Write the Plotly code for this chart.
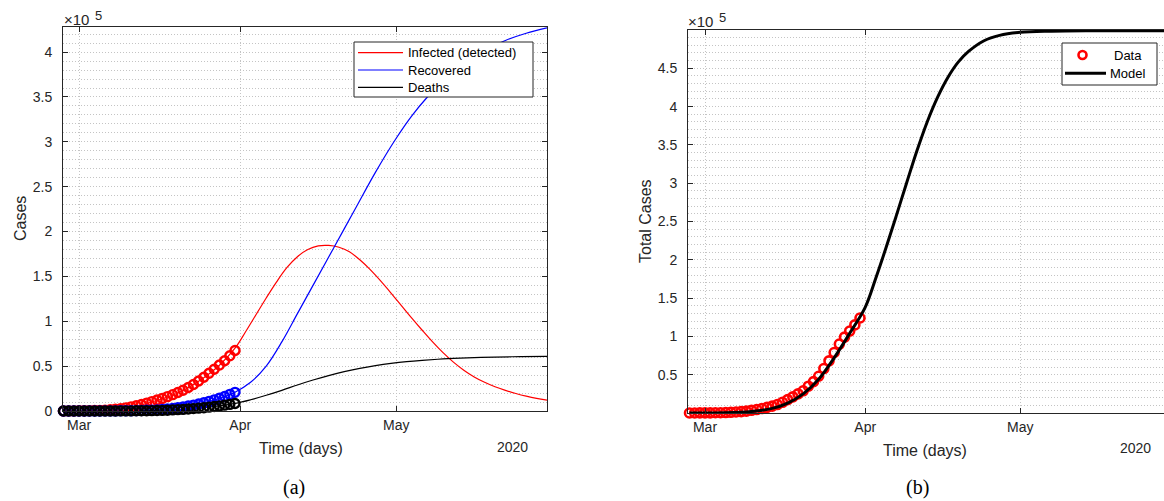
import pandas as pd
import plotly.graph_objects as go

# ---------------- observed data (daily, values in units of 10^5 cases) ----------------
data_dates = pd.date_range("2020-02-27", "2020-03-31").strftime("%Y-%m-%d").tolist()

infected_obs = [0.000, 0.001, 0.001, 0.002, 0.003, 0.004, 0.005, 0.007, 0.010, 0.014,
                0.019, 0.026, 0.035, 0.046, 0.058, 0.072, 0.088, 0.105, 0.122, 0.140,
                0.160, 0.182, 0.206, 0.232, 0.262, 0.296, 0.334, 0.376, 0.420, 0.466,
                0.512, 0.560, 0.615, 0.675]
recovered_obs = [0.000, 0.000, 0.000, 0.000, 0.000, 0.000, 0.000, 0.000, 0.001, 0.001,
                 0.001, 0.002, 0.002, 0.003, 0.004, 0.006, 0.008, 0.010, 0.013, 0.017,
                 0.022, 0.028, 0.036, 0.045, 0.055, 0.066, 0.078, 0.092, 0.107, 0.124,
                 0.142, 0.162, 0.185, 0.208]
deaths_obs = [0.000, 0.000, 0.000, 0.000, 0.000, 0.000, 0.000, 0.000, 0.000, 0.000,
              0.000, 0.001, 0.001, 0.001, 0.002, 0.002, 0.003, 0.004, 0.005, 0.007,
              0.009, 0.012, 0.015, 0.018, 0.022, 0.027, 0.032, 0.037, 0.043, 0.050,
              0.057, 0.065, 0.074, 0.084]
total_obs = [0.000, 0.000, 0.001, 0.001, 0.002, 0.003, 0.004, 0.006, 0.009, 0.013,
             0.018, 0.025, 0.035, 0.045, 0.058, 0.073, 0.090, 0.110, 0.140, 0.175,
             0.210, 0.250, 0.290, 0.350, 0.410, 0.480, 0.580, 0.680, 0.790, 0.900,
             0.990, 1.070, 1.150, 1.240]

# ---------------- model curves (values in units of 10^5 cases) ----------------
infected_dates = ["2020-02-27", "2020-03-05", "2020-03-10", "2020-03-15", "2020-03-20",
                  "2020-03-25", "2020-03-28", "2020-03-31", "2020-04-02", "2020-04-04",
                  "2020-04-06", "2020-04-08", "2020-04-10", "2020-04-12", "2020-04-14",
                  "2020-04-16", "2020-04-18", "2020-04-20", "2020-04-22", "2020-04-24",
                  "2020-04-26", "2020-04-28", "2020-04-30", "2020-05-02", "2020-05-04",
                  "2020-05-06", "2020-05-08", "2020-05-10", "2020-05-12", "2020-05-14",
                  "2020-05-16", "2020-05-18", "2020-05-20", "2020-05-22", "2020-05-24",
                  "2020-05-26", "2020-05-28", "2020-05-30"]
infected_fit = [0.000, 0.005, 0.030, 0.100, 0.200, 0.370, 0.510, 0.700, 0.880, 1.070,
                1.260, 1.440, 1.600, 1.720, 1.800, 1.840, 1.845, 1.825, 1.775, 1.685,
                1.575, 1.450, 1.315, 1.175, 1.035, 0.900, 0.770, 0.650, 0.545, 0.455,
                0.380, 0.320, 0.270, 0.230, 0.195, 0.165, 0.140, 0.120]

recovered_dates = ["2020-02-27", "2020-03-10", "2020-03-20", "2020-03-25", "2020-03-28",
                   "2020-03-31", "2020-04-03", "2020-04-06", "2020-04-09", "2020-04-12",
                   "2020-04-15", "2020-04-19", "2020-04-23", "2020-04-27", "2020-05-01",
                   "2020-05-04", "2020-05-07", "2020-05-10", "2020-05-13", "2020-05-16",
                   "2020-05-19", "2020-05-22", "2020-05-26", "2020-05-30"]
recovered_fit = [0.000, 0.002, 0.035, 0.090, 0.140, 0.210, 0.320, 0.500, 0.770, 1.085,
                 1.400, 1.820, 2.240, 2.660, 3.040, 3.290, 3.500, 3.680, 3.830, 3.950,
                 4.050, 4.130, 4.210, 4.270]

deaths_dates = ["2020-02-27", "2020-03-10", "2020-03-20", "2020-03-25", "2020-03-31",
                "2020-04-03", "2020-04-06", "2020-04-09", "2020-04-12", "2020-04-15",
                "2020-04-18", "2020-04-21", "2020-04-24", "2020-04-27", "2020-04-30",
                "2020-05-03", "2020-05-06", "2020-05-09", "2020-05-12", "2020-05-16",
                "2020-05-20", "2020-05-25", "2020-05-30"]
deaths_fit = [0.000, 0.001, 0.015, 0.037, 0.085, 0.125, 0.175, 0.230, 0.290, 0.345,
              0.395, 0.438, 0.475, 0.505, 0.530, 0.550, 0.565, 0.577, 0.586, 0.595,
              0.601, 0.606, 0.609]

total_dates = ["2020-02-27", "2020-03-05", "2020-03-10", "2020-03-14", "2020-03-17",
               "2020-03-20", "2020-03-23", "2020-03-26", "2020-03-29", "2020-04-01",
               "2020-04-03", "2020-04-05", "2020-04-07", "2020-04-09", "2020-04-11",
               "2020-04-13", "2020-04-15", "2020-04-17", "2020-04-19", "2020-04-21",
               "2020-04-24", "2020-04-27", "2020-05-01", "2020-05-07", "2020-05-15",
               "2020-05-29"]
total_fit = [0.000, 0.003, 0.020, 0.060, 0.130, 0.250, 0.440, 0.720, 1.040, 1.380,
             1.750, 2.150, 2.570, 3.000, 3.420, 3.800, 4.120, 4.380, 4.580, 4.720,
             4.860, 4.930, 4.970, 4.985, 4.990, 4.990]

month_ticks = ["2020-03-01", "2020-04-01", "2020-05-01"]
month_labels = ["Mar", "Apr", "May"]

# ---------------- drawing ----------------
W, H = 1164, 501
FONT = "Liberation Sans, Arial, Helvetica, sans-serif"
SERIF = "Liberation Serif, Times New Roman, serif"
INK = "#262626"
GRID = "#c4c4c4"
DOTS = "1px,2px"
RED, BLUE, BLACK = "#ff0000", "#0000ff", "#000000"


def px(x):
    return x / W


def py(y):
    return 1 - y / H


fig = go.Figure()

line_w = 1.2
for xs, ys, color, name in [(infected_dates, infected_fit, RED, "Infected (detected)"),
                            (recovered_dates, recovered_fit, BLUE, "Recovered"),
                            (deaths_dates, deaths_fit, BLACK, "Deaths")]:
    fig.add_trace(go.Scatter(x=xs, y=ys, mode="lines", name=name, showlegend=False,
                             line=dict(color=color, width=line_w, shape="spline", smoothing=1.0),
                             xaxis="x", yaxis="y"))

for series, color in [(infected_obs, RED), (recovered_obs, BLUE), (deaths_obs, BLACK)]:
    fig.add_trace(go.Scatter(x=data_dates, y=series, mode="markers", showlegend=False,
                             marker=dict(symbol="circle-open", size=9, color=color,
                                         line=dict(width=2.4, color=color)),
                             cliponaxis=False, xaxis="x", yaxis="y"))

fig.add_trace(go.Scatter(x=data_dates, y=total_obs, mode="markers", name="Data", showlegend=False,
                         marker=dict(symbol="circle-open", size=9, color=RED,
                                     line=dict(width=2.6, color=RED)),
                         cliponaxis=False, xaxis="x2", yaxis="y2"))
fig.add_trace(go.Scatter(x=total_dates, y=total_fit, mode="lines", name="Model", showlegend=False,
                         line=dict(color=BLACK, width=3, shape="spline", smoothing=1.0),
                         xaxis="x2", yaxis="y2"))

common_x = dict(type="date", tickmode="array", tickvals=month_ticks, ticktext=month_labels,
                ticks="inside", ticklen=5, tickcolor=INK, tickwidth=1,
                showline=True, linecolor=INK, linewidth=1,
                showgrid=True, gridcolor=GRID, griddash=DOTS, gridwidth=1,
                zeroline=False, tickfont=dict(family=FONT, size=14, color=INK),
                ticklabelstandoff=1, automargin=False)
common_y = dict(ticks="inside", ticklen=5, tickcolor=INK, tickwidth=1,
                showline=True, linecolor=INK, linewidth=1,
                showgrid=True, gridcolor=GRID, griddash=DOTS, gridwidth=1,
                zeroline=False, tickfont=dict(family=FONT, size=14, color=INK),
                minor=dict(tickmode="linear", tick0=0, dtick=0.1, showgrid=True,
                           gridcolor=GRID, griddash=DOTS, gridwidth=1, ticklen=0),
                ticklabelstandoff=7, automargin=False)

fig.update_layout(
    width=W, height=H,
    margin=dict(l=0, r=0, t=0, b=0, pad=0, autoexpand=False),
    paper_bgcolor="white", plot_bgcolor="white",
    font=dict(family=FONT, color=INK),
    showlegend=False,
    xaxis=dict(common_x, domain=[px(63), px(547)], anchor="y", mirror="ticks",
               range=["2020-02-26 22:00", "2020-05-30 00:00"]),
    yaxis=dict(common_y, domain=[py(411), py(27)], anchor="x", mirror="ticks",
               range=[0, 4.28], tickmode="linear", tick0=0, dtick=0.5),
    xaxis2=dict(common_x, domain=[px(688), 1.0], anchor="y2", mirror="ticks",
                range=["2020-02-26 17:00", "2020-05-28 20:00"]),
    yaxis2=dict(common_y, domain=[py(413), py(30)], anchor="x2", mirror=False,
                range=[0, 5.0], tickmode="array",
                tickvals=[0.5, 1, 1.5, 2, 2.5, 3, 3.5, 4, 4.5],
                ticktext=["0.5", "1", "1.5", "2", "2.5", "3", "3.5", "4", "4.5"]),
)

# ---------------- legends (boxed keys in the top-right corner of each panel) ----------------
shapes = [
    dict(type="rect", x0=px(354), x1=px(533), y0=py(97), y1=py(42),
         line=dict(color=INK, width=1), fillcolor="white"),
    dict(type="rect", x0=px(1062), x1=px(1157), y0=py(85), y1=py(43),
         line=dict(color=INK, width=1), fillcolor="white"),
]
left_keys = [("Infected (detected)", RED, 52.7), ("Recovered", BLUE, 70.0), ("Deaths", BLACK, 87.3)]
for _, color, yy in left_keys:
    shapes.append(dict(type="line", x0=px(358), x1=px(403), y0=py(yy), y1=py(yy),
                       line=dict(color=color, width=1.2)))
shapes.append(dict(type="circle", x0=px(1078.5), x1=px(1086.5), y0=py(59), y1=py(51),
                   line=dict(color=RED, width=2.6)))
shapes.append(dict(type="line", x0=px(1065), x1=px(1106), y0=py(73.3), y1=py(73.3),
                   line=dict(color=BLACK, width=3)))
for s in shapes:
    s["xref"] = "paper"
    s["yref"] = "paper"
    s["layer"] = "above"
fig.update_layout(shapes=shapes)

annotations = []
for label, _, yy in left_keys:
    annotations.append(dict(x=px(406), y=py(yy), xanchor="left", text=label,
                            font=dict(size=13, color=BLACK)))
annotations += [
    dict(x=px(1112), y=py(55), xanchor="left", text="Data", font=dict(size=13, color=BLACK)),
    dict(x=px(1108), y=py(73.3), xanchor="left", text="Model", font=dict(size=13, color=BLACK)),
    # exponent labels above each y axis
    dict(x=px(62), y=py(19), xanchor="left", text="×10", font=dict(size=15, color=INK)),
    dict(x=px(92.5), y=py(15), xanchor="left", text="5", font=dict(size=13, color=INK)),
    dict(x=px(686), y=py(21), xanchor="left", text="×10", font=dict(size=15, color=INK)),
    dict(x=px(716.5), y=py(17), xanchor="left", text="5", font=dict(size=13, color=INK)),
    # axis titles
    dict(x=px(301), y=py(448), text="Time (days)", font=dict(size=16, color=INK)),
    dict(x=px(925), y=py(450), text="Time (days)", font=dict(size=16, color=INK)),
    dict(x=px(512), y=py(447), text="2020", font=dict(size=14, color=INK)),
    dict(x=px(1135), y=py(448), text="2020", font=dict(size=14, color=INK)),
    dict(x=px(20), y=py(219), text="Cases", textangle=-90, font=dict(size=16, color=INK)),
    dict(x=px(645), y=py(221), text="Total Cases", textangle=-90, font=dict(size=16, color=INK)),
    # panel captions
    dict(x=px(294), y=py(487), text="(a)", font=dict(family=SERIF, size=20, color=BLACK)),
    dict(x=px(917), y=py(487), text="(b)", font=dict(family=SERIF, size=20, color=BLACK)),
]
for a in annotations:
    a.setdefault("xref", "paper")
    a.setdefault("yref", "paper")
    a.setdefault("showarrow", False)
    a.setdefault("xanchor", "center")
    a.setdefault("yanchor", "middle")
    a["font"].setdefault("family", FONT)
fig.update_layout(annotations=annotations)

fig.write_html("out.html")
